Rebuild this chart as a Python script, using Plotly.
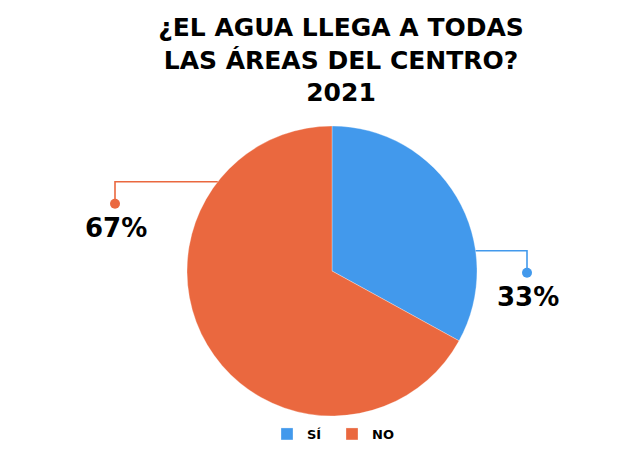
import math
import plotly.graph_objects as go

# Data
labels = ["SÍ", "NO"]
values = [33, 67]
colors = ["#4299EC", "#EA683F"]

# where each connector leaves the pie (degrees clockwise from 12 o'clock)
label_angles = [82, 308]

# the page is drawn with an 8px body margin, so lay out 8px up/left
OFF = 8
W, H = 640, 467
ML, MT = 332 - 308 - OFF, 126 - OFF
pw, ph = 616, 290
MR, MB = W - ML - pw, H - MT - ph
cx, cy = ML + pw / 2, MT + ph / 2
R = min(pw, ph) / 2
elbow_x = [527 - OFF, 115 - OFF]  # pixel x of the elbow / dot

def px(x):
    return (x - ML) / pw

def py(y):
    return (H - MB - y) / ph

fig = go.Figure(go.Pie(
    labels=labels,
    values=values,
    sort=False,
    direction="clockwise",
    rotation=0,
    marker=dict(colors=colors, line=dict(color="rgba(255,255,255,0.5)", width=0.6)),
    textinfo="none",
    hoverinfo="label+percent",
))

heavy = "DejaVu Sans"
shapes = []
annotations = []
total = sum(values)
for v, ang, ex, col in zip(values, label_angles, elbow_x, colors):
    a = math.radians(ang)
    sx = cx + R * math.sin(a)
    sy = cy - R * math.cos(a)
    dy = sy + 22
    shapes.append(dict(type="path", xref="paper", yref="paper",
                       path=f"M {px(sx)},{py(sy)} L {px(ex)},{py(sy)} L {px(ex)},{py(dy)}",
                       line=dict(color=col, width=1.6)))
    shapes.append(dict(type="circle", xref="paper", yref="paper",
                       x0=px(ex - 5), x1=px(ex + 5), y0=py(dy - 5), y1=py(dy + 5),
                       fillcolor=col, line=dict(color=col, width=0)))
    annotations.append(dict(xref="paper", yref="paper", x=px(ex + 1), y=py(dy + 24),
                            text=f"{round(v / total * 100)}%", showarrow=False,
                            xanchor="center", yanchor="middle",
                            font=dict(family=heavy, size=26, color="#000000", weight="bold")))

fig.update_layout(
    width=W, height=H,
    margin=dict(l=ML, r=MR, t=MT, b=MB, autoexpand=False),
    paper_bgcolor="white",
    title=dict(
        text="¿EL AGUA LLEGA A TODAS<br>LAS ÁREAS DEL CENTRO?<br>2021",
        x=(341 - OFF) / W, xanchor="center", y=0.94, yanchor="top",
        font=dict(family=heavy, size=25, color="#000000", weight="bold"),
    ),
    shapes=shapes,
    annotations=annotations,
    legend=dict(orientation="h", x=0.5, xanchor="center", y=py(434 - OFF), yanchor="middle",
                font=dict(family=heavy, size=13, color="#000000", weight="bold"),
                entrywidth=20, itemwidth=30),
)

fig.write_html("out.html")
